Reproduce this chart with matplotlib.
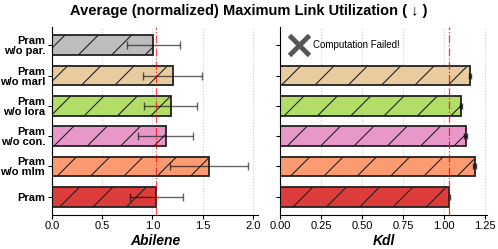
import numpy as np
import matplotlib.pyplot as plt

plt.rcParams['font.family'] = ['Liberation Sans', 'DejaVu Sans']
plt.rcParams['hatch.linewidth'] = 0.8

labels = ["Pram", "Pram\nw/o mlm", "Pram\nw/o con.", "Pram\nw/o lora", "Pram\nw/o marl", "Pram\nw/o par."]
colors = ["#DC3C3C", "#FC9A72", "#E898C8", "#B2DD66", "#E9CBA0", "#BDBDBD"]

abilene = [1.04, 1.56, 1.13, 1.18, 1.20, 1.01]
abilene_err = [0.265, 0.39, 0.27, 0.265, 0.29, 0.26]

kdl = [1.03, 1.185, 1.13, 1.10, 1.155]
kdl_err = [0.004, 0.01, 0.008, 0.005, 0.006]

fig = plt.figure(figsize=(4.98, 2.49), dpi=100)
ax1 = fig.add_axes([0.1044, 0.1365, 0.4136, 0.755])
ax2 = fig.add_axes([0.562, 0.1365, 0.416, 0.755])

y = np.arange(len(labels))

ax1.barh(y, abilene, height=0.65, color=colors, edgecolor="#222222",
         linewidth=1.3, hatch="/", zorder=2)
ax1.errorbar(abilene, y, xerr=abilene_err, fmt="none", ecolor="black",
             alpha=0.6, capsize=3, elinewidth=1.0, zorder=3)
ax1.axvline(abilene[0], color="red", linestyle="-.", linewidth=0.9, alpha=0.7, zorder=4)
ax1.set_xlim(0, 2.05)
ax1.set_xticks([0, 0.5, 1.0, 1.5, 2.0])
ax1.set_yticks(y)
ax1.set_yticklabels(labels, fontweight="bold", fontsize=8, linespacing=1.0)
ax1.set_xlabel("Abilene", fontweight="bold", fontstyle="italic", fontsize=10, labelpad=2)

yk = np.arange(len(kdl))
ax2.barh(yk, kdl, height=0.65, color=colors[:5], edgecolor="#222222",
         linewidth=1.3, hatch="/", zorder=2)
ax2.errorbar(kdl, yk, xerr=kdl_err, fmt="none", ecolor="black",
             alpha=0.7, capsize=2, elinewidth=1.0, zorder=3)
ax2.axvline(kdl[0], color="red", linestyle="-.", linewidth=0.9, alpha=0.8, zorder=4)
ax2.plot([0.117], [5], marker="x", markersize=14, mew=3.5, color="#555555", zorder=5)
ax2.text(0.2, 5, "Computation Failed!", fontsize=7, va="center", ha="left")
ax2.set_xlim(0, 1.26)
ax2.set_xticks([0, 0.25, 0.5, 0.75, 1.0, 1.25])
ax2.set_xticklabels(["0.00", "0.25", "0.50", "0.75", "1.00", "1.25"])
ax2.set_yticks(y)
ax2.set_yticklabels([])
ax2.set_xlabel("Kdl", fontweight="bold", fontstyle="italic", fontsize=10, labelpad=2)

for ax in (ax1, ax2):
    ax.set_ylim(-0.6, 5.6)
    ax.spines["top"].set_visible(False)
    ax.spines["right"].set_visible(False)
    ax.grid(axis="x", linestyle=":", color="#CCCCCC", linewidth=0.8, zorder=0)
    ax.set_axisbelow(True)
    ax.tick_params(axis="x", labelsize=8, length=3, pad=1.5)
    ax.tick_params(axis="y", length=3, pad=2)

fig.suptitle("Average (normalized) Maximum Link Utilization ( \u2193 )",
             fontweight="bold", fontsize=10.5, x=0.5, y=0.985)

fig.savefig("out.png", dpi=100)
